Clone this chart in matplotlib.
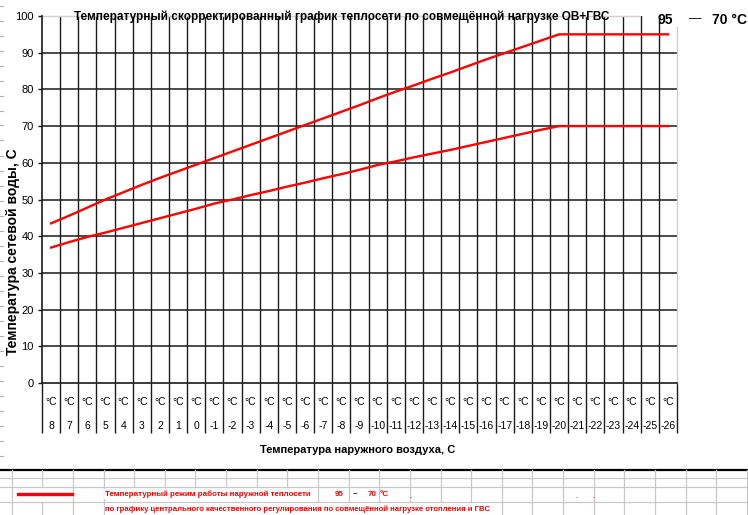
import matplotlib
matplotlib.use('Agg')
import matplotlib.pyplot as plt
from matplotlib.lines import Line2D
from matplotlib.transforms import blended_transform_factory

# outdoor temperature categories and network water temperatures
outdoor = [8, 7, 6, 5, 4, 3, 2, 1, 0, -1, -2, -3, -4, -5, -6, -7, -8, -9, -10,
           -11, -12, -13, -14, -15, -16, -17, -18, -19, -20, -21, -22, -23,
           -24, -25, -26]
supply = [43.5, 45.6, 47.8, 50.0, 52.0, 54.0, 55.9, 57.7, 59.5, 61.3, 63.1,
          64.9, 66.7, 68.5, 70.3, 72.1, 73.9, 75.7, 77.6, 79.4, 81.1, 82.9,
          84.6, 86.4, 88.2, 89.9, 91.6, 93.3, 95.0, 95.0, 95.0, 95.0, 95.0,
          95.0, 95.0]
back = [36.9, 38.4, 39.8, 41.0, 42.3, 43.6, 44.9, 46.2, 47.5, 48.9, 50.0,
        51.2, 52.3, 53.5, 54.6, 55.8, 56.9, 58.1, 59.4, 60.4, 61.5, 62.5,
        63.5, 64.6, 65.7, 66.8, 67.9, 69.0, 70.0, 70.0, 70.0, 70.0, 70.0,
        70.0, 70.0]
yticks = list(range(0, 101, 10))

title = 'Температурный скорректированный график теплосети по совмещённой нагрузке ОВ+ГВС'
xlabel = 'Температура наружного воздуха, С'
ylabel = 'Температура сетевой воды, С'

plt.rcParams['font.family'] = ['Liberation Sans', 'DejaVu Sans']

W, H = 748, 515
fig = plt.figure(figsize=(W / 100, H / 100), dpi=100)
ax = fig.add_axes([42 / W, 132 / H, 635 / W, 367 / H])

n = len(outdoor)
pos = list(range(n))
ax.plot(pos, supply, color='#ff0000', lw=1.7, solid_joinstyle='round')
ax.plot(pos, back, color='#ff0000', lw=1.7, solid_joinstyle='round')

ax.set_xlim(-0.5, n - 0.5)
ax.set_ylim(0, 100)

# horizontal grid
for v in yticks[1:-1]:
    ax.axhline(v, color='#1a1a1a', lw=1.1, zorder=0)
# vertical grid at category boundaries, extended below axis as separators
bounds = [i - 0.5 for i in range(n + 1)]
for b in bounds[1:-1]:
    ax.axvline(b, color='#1a1a1a', lw=1.0, zorder=0)
ax.set_xticks(bounds, minor=True)
ax.set_xticks([])
ax.tick_params(axis='x', which='minor', direction='out', length=36, width=1.0,
               color='#1a1a1a', labelbottom=False)

ax.set_yticks(yticks)
ax.tick_params(axis='y', which='major', direction='out', length=3, width=1.0,
               color='#1a1a1a', labelsize=8, pad=3)

for s in ['left', 'bottom']:
    ax.spines[s].set_color('#1a1a1a')
    ax.spines[s].set_linewidth(1.2)
ax.spines['top'].set_visible(False)
ax.spines['right'].set_visible(False)
# light frame, partly hidden by the "95 — 70 °C" cell
ax.plot([0, 0.94], [1, 1], transform=ax.transAxes, color='#d0d0d0', lw=1.0,
        clip_on=False)
ax.plot([1, 1], [0, 0.97], transform=ax.transAxes, color='#d0d0d0', lw=1.0,
        clip_on=False)

tr = blended_transform_factory(ax.transData, ax.transAxes)
for i, t in enumerate(outdoor):
    ax.text(i, -0.052, '°C', transform=tr, ha='center', va='center',
            fontsize=7.5)
    ax.text(i, -0.117, str(t), transform=tr, ha='center', va='center',
            fontsize=7.5)

fig.text(342 / W, 1 - 17 / H, title, ha='center', va='center',
         fontsize=8.5, weight='bold')
fig.text(665 / W, 1 - 20 / H, '95', ha='center', va='center',
         fontsize=10, weight='bold')
fig.text(695 / W, 1 - 19 / H, '—', ha='center', va='center', fontsize=9)
fig.text(730 / W, 1 - 20 / H, '70 °C', ha='center', va='center',
         fontsize=10, weight='bold')
fig.text(358 / W, 1 - 450 / H, xlabel, ha='center', va='center',
         fontsize=8, weight='bold')
fig.text(13 / W, 1 - 252 / H, ylabel, ha='center', va='center',
         rotation=90, fontsize=10, weight='bold')

# spreadsheet cells below the chart
def hline(y, x0, x1, color, lw):
    fig.add_artist(Line2D([x0 / W, x1 / W], [1 - y / H, 1 - y / H],
                          color=color, lw=lw))

def vline(x, y0, y1, color, lw):
    fig.add_artist(Line2D([x / W, x / W], [1 - y0 / H, 1 - y1 / H],
                          color=color, lw=lw))

hline(469.5, 0, W, 'black', 1.6)
for y in [478, 487, 501.5]:
    hline(y, 0, W, '#c8c8c8', 0.9)
cols = [11.7 + 30.63 * k for k in range(25)]
for x in cols:
    vline(x, 470, 487, '#c8c8c8', 0.9)
    if x < 20 or 70 < x < 110 or x > 312:
        vline(x, 487, 501.5, '#c8c8c8', 0.9)
    if x < 110 or x > 495:
        vline(x, 501.5, H, '#c8c8c8', 0.9)
for y in range(5, 470, 15):
    hline(y + 0.5, 0, 3, '#b0b0b0', 0.8)

red = '#ff0000'
fig.add_artist(Line2D([18 / W, 72 / W], [1 - 494 / H, 1 - 494 / H],
                      color=red, lw=2.4))
fig.text(105 / W, 1 - 494 / H, 'Температурный режим работы наружной теплосети',
         ha='left', va='center', fontsize=5.8, weight='bold', color=red,
         bbox=dict(fc='white', ec='none', pad=1))
fig.text(344 / W, 1 - 494 / H, '95', ha='right', va='center', fontsize=5.8,
         weight='bold', color=red)
fig.text(355 / W, 1 - 494 / H, '−', ha='center', va='center', fontsize=5.8,
         weight='bold', color='#333333')
fig.text(377 / W, 1 - 494 / H, '70', ha='right', va='center', fontsize=5.8,
         weight='bold', color=red)
fig.text(380 / W, 1 - 494 / H, '°C', ha='left', va='center', fontsize=5.8,
         weight='bold', color=red)
for x in [411, 577, 594]:
    fig.text(x / W, 1 - 496 / H, '.', ha='center', va='center', fontsize=5.8,
             weight='bold', color=red)
fig.text(105 / W, 1 - 509 / H,
         'по графику центрального качественного регулирования по совмещённой нагрузке отопления и ГВС',
         ha='left', va='center', fontsize=5.6, weight='bold', color=red)

fig.savefig('out.png', dpi=100)
